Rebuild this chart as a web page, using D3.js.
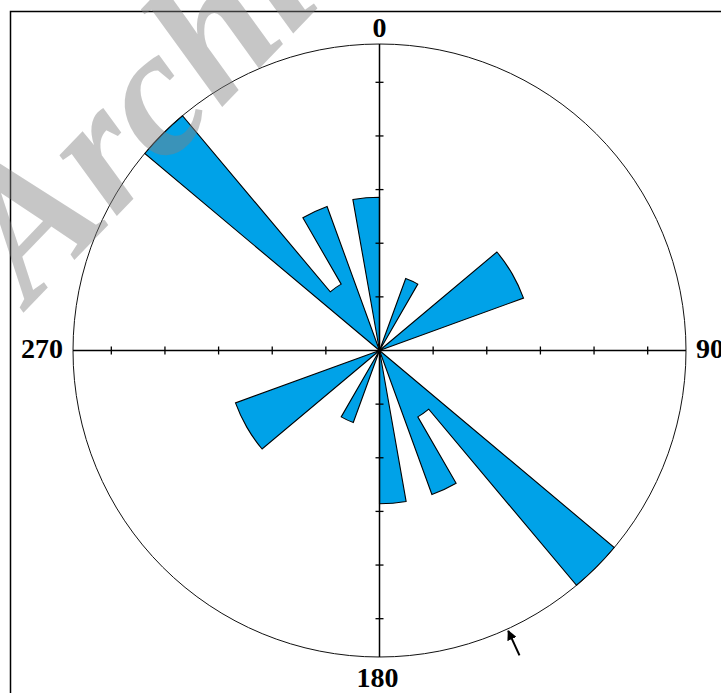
<!DOCTYPE html>
<html>
<head>
<meta charset="utf-8">
<script src="https://cdn.jsdelivr.net/npm/d3@7"></script>
<style>
    body { margin: 0; background: #fff; }
    svg { display: block; }
    .label { font-family: "Liberation Serif", "Times New Roman", serif; font-weight: bold; font-size: 28px; fill: #000; }
    .watermark { font-family: "Liberation Serif", "Times New Roman", serif; font-weight: bold; font-style: italic; font-size: 182px; fill: #808080; fill-opacity: 0.45; }
</style>
</head>
<body>
<div id="rose"></div>
<script>
(function () {

    // rose diagram, axial data, 10 degree bins from 0 to 180 (mirrored on the other half)

    var binStarts = [0, 10, 20, 30, 40, 50, 60, 70, 80, 90, 100, 110, 120, 130, 140, 150, 160, 170];
    var binCounts = [0, 0, 1, 0, 0, 2, 2, 0, 0, 0, 0, 0, 0, 4, 1, 2, 0, 2];
    var binWidth = 10;

    var tickPercents = [5, 10, 15, 20, 25];
    var axisLabels = ['0', '90', '180', '270'];
    var axisAngles = [0, 90, 180, 270];


    var width = 721, height = 693;
    var cx = 379.5, cy = 350.5, R = 306.5;

    var total = d3.sum(binCounts);

    var bins = [];
    binStarts.forEach(function (s, i) {
        var pct = binCounts[i] / total * 100;
        bins.push({ start: s, end: s + binWidth, pct: pct });
        bins.push({ start: s + 180, end: s + 180 + binWidth, pct: pct });
    });
    bins.sort(function (a, b) { return a.start - b.start; });

    var r = d3.scaleLinear()
        .domain([0, d3.max(bins, function (d) { return d.pct; })])
        .range([0, R]);

    var rad = function (deg) { return deg * Math.PI / 180; };
    // compass angle -> x,y
    var pt = function (radius, deg) {
        return [cx + radius * Math.sin(rad(deg)), cy - radius * Math.cos(rad(deg))];
    };


    var svg = d3.select('#rose')
        .append('svg')
        .attr('width', width)
        .attr('height', height);


    // frame
    svg.append('rect')
        .attr('x', 10.5)
        .attr('y', 11.5)
        .attr('width', 800)
        .attr('height', 800)
        .attr('fill', 'none')
        .attr('stroke', '#000')
        .attr('stroke-width', 1.5);


    // petals: one path per run of non empty bins
    var runs = [], current = null;
    bins.forEach(function (b) {
        if (b.pct > 0) {
            if (!current) { current = []; runs.push(current); }
            current.push(b);
        } else {
            current = null;
        }
    });

    svg.append('g')
        .selectAll('path')
        .data(runs)
        .enter()
        .append('path')
        .attr('d', function (run) {
            var p = d3.path();
            p.moveTo(cx, cy);
            run.forEach(function (b) {
                p.arc(cx, cy, r(b.pct), rad(b.start - 90), rad(b.end - 90));
            });
            p.closePath();
            return p.toString();
        })
        .attr('fill', '#00a2e8')
        .attr('stroke', '#000')
        .attr('stroke-width', 1.1)
        .attr('stroke-linejoin', 'miter');


    // outer circle
    svg.append('circle')
        .attr('cx', cx)
        .attr('cy', cy)
        .attr('r', R)
        .attr('fill', 'none')
        .attr('stroke', '#111')
        .attr('stroke-width', 1);


    // axes with tick marks
    var axes = svg.append('g').attr('stroke', '#000');

    axes.append('line')
        .attr('x1', cx).attr('x2', cx)
        .attr('y1', cy - R).attr('y2', cy + R)
        .attr('stroke-width', 1.5);

    axes.append('line')
        .attr('x1', cx - R).attr('x2', cx + R)
        .attr('y1', cy).attr('y2', cy)
        .attr('stroke-width', 1.5);

    axisAngles.forEach(function (a) {
        axes.selectAll('.tick' + a)
            .data(tickPercents)
            .enter()
            .append('line')
            .attr('stroke-width', 1.3)
            .each(function (t) {
                var c = pt(r(t), a);
                var horizontal = (a === 0 || a === 180);
                d3.select(this)
                    .attr('x1', horizontal ? c[0] - 4 : c[0])
                    .attr('x2', horizontal ? c[0] + 4 : c[0])
                    .attr('y1', horizontal ? c[1] : c[1] - 4)
                    .attr('y2', horizontal ? c[1] : c[1] + 4);
            });
    });


    // labels
    svg.append('text').attr('class', 'label')
        .attr('x', cx).attr('y', cy - R - 7.5)
        .attr('text-anchor', 'middle')
        .text(axisLabels[0]);

    svg.append('text').attr('class', 'label')
        .attr('x', cx + R + 10).attr('y', cy + 7.5)
        .attr('text-anchor', 'start')
        .text(axisLabels[1]);

    svg.append('text').attr('class', 'label')
        .attr('x', cx - 2).attr('y', cy + R + 30)
        .attr('text-anchor', 'middle')
        .text(axisLabels[2]);

    svg.append('text').attr('class', 'label')
        .attr('x', cx - R - 10).attr('y', cy + 7.5)
        .attr('text-anchor', 'end')
        .text(axisLabels[3]);


    // mean direction arrow (axial mean via doubled angles)
    var sx = 0, sy = 0;
    binStarts.forEach(function (s, i) {
        var a = rad(2 * (s + binWidth / 2));
        sx += binCounts[i] * Math.cos(a);
        sy += binCounts[i] * Math.sin(a);
    });
    var mean = Math.atan2(sy, sx) * 180 / Math.PI;
    if (mean < 0) mean += 360;
    mean = mean / 2;
    if (mean < 90) mean += 180;

    var tail = pt(R + 29, mean), tip = pt(R + 2, mean);

    svg.append('defs')
        .append('marker')
        .attr('id', 'head')
        .attr('viewBox', '0 0 10 10')
        .attr('refX', 9)
        .attr('refY', 5)
        .attr('markerWidth', 5)
        .attr('markerHeight', 5)
        .attr('orient', 'auto')
        .append('path')
        .attr('d', 'M0,0 L10,5 L0,10 Z')
        .attr('fill', '#000');

    svg.append('line')
        .attr('x1', tail[0]).attr('y1', tail[1])
        .attr('x2', tip[0]).attr('y2', tip[1])
        .attr('stroke', '#000')
        .attr('stroke-width', 2)
        .attr('marker-end', 'url(#head)');


    // watermark from the source image
    svg.append('text')
        .attr('class', 'watermark')
        .attr('transform', 'translate(30,306) rotate(-46)')
        .text('Archive');

})()
</script>
</body>
</html>
